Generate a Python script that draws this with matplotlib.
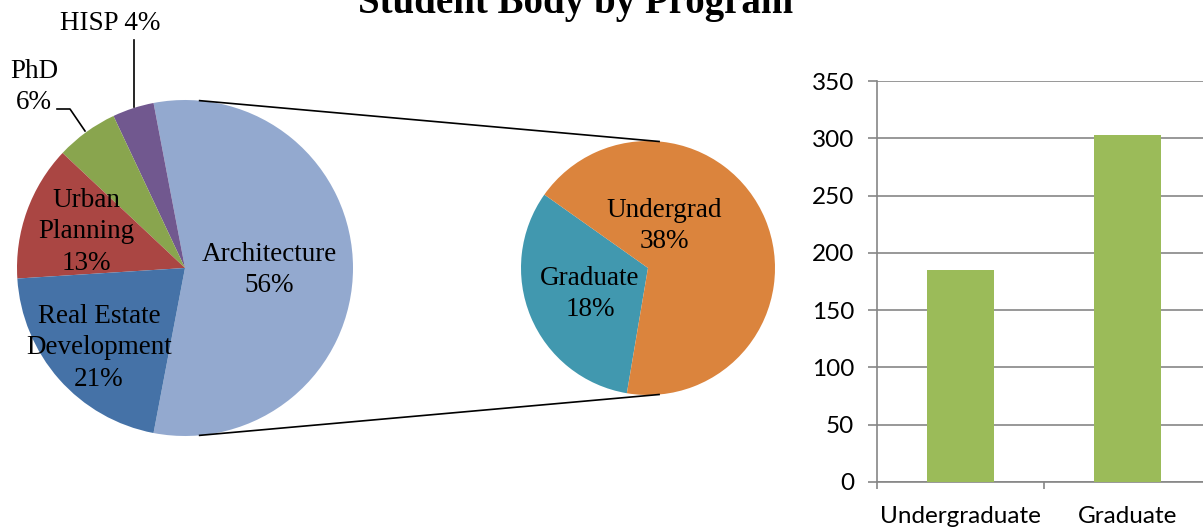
import numpy as np
import matplotlib.pyplot as plt

# data
programs = ["Architecture", "HISP", "PhD", "Urban\nPlanning", "Real Estate\nDevelopment"]
program_share = [56, 4, 6, 13, 21]
arch_levels = ["Graduate", "Undergrad"]
arch_share = [18, 38]
bar_labels = ["Undergraduate", "Graduate"]
bar_values = [185, 303]

pie_colors = ["#93A9CF", "#71588F", "#89A54E", "#AA4643", "#4572A7"]
arch_colors = ["#4198AF", "#DB843D"]
serif = ["Liberation Serif", "DejaVu Serif"]

W, H = 1203, 527
fig = plt.figure(figsize=(W / 100, H / 100), dpi=100)

# left part: both pies drawn in pixel-like data coords (y up)
ax = fig.add_axes([0, 0, 800 / W, 1])
c1, r1 = (185, H - 268), 168
c2, r2 = (648, H - 268), 127

# the split-off slice (Architecture) is centred on 3 o'clock
start1 = -program_share[0] / sum(program_share) * 360 / 2
ax.pie(program_share, colors=pie_colors, startangle=start1, center=c1,
       radius=r1, counterclock=True, wedgeprops=dict(linewidth=0))
ax.pie(arch_share, colors=arch_colors, startangle=144.7, center=c2,
       radius=r2, counterclock=True, wedgeprops=dict(linewidth=0))
ax.set_xlim(0, 800)
ax.set_ylim(0, H)
ax.set_aspect("equal")
ax.axis("off")

# connector lines between the pies
for sgn in (1, -1):
    a = np.deg2rad(85 * sgn)
    ax.plot([c1[0] + r1 * np.cos(a), c2[0] + r2 * np.cos(a)],
            [c1[1] + r1 * np.sin(a), c2[1] + r2 * np.sin(a)],
            color="black", lw=1.2)

# leader lines for the small slices
ax.plot([134, 134], [H - 40, H - 107], color="black", lw=1.2)
ax.plot([57, 70, 85], [H - 109, H - 109, H - 131], color="black", lw=1.2)

fs = 19.5
def lab(x, y, s):
    ax.text(x, H - y, s, ha="center", va="center", fontsize=fs,
            family=serif, linespacing=1.35)

lab(110, 24, f"{programs[1]} {program_share[1]}%")
lab(34, 87, f"{programs[2]}\n{program_share[2]}%")
lab(86, 232, f"{programs[3]}\n{program_share[3]}%")
lab(269, 270, f"{programs[0]}\n{program_share[0]}%")
lab(99, 348, f"{programs[4]}\n{program_share[4]}%")
lab(664, 226, f"{arch_levels[1]}\n{arch_share[1]}%")
lab(590, 294, f"{arch_levels[0]}\n{arch_share[0]}%")

ax.text(576, H - 13, "Student Body by Program", ha="center", va="baseline",
        fontsize=28, fontweight="bold", family=serif)

# right part: bar chart
bx = fig.add_axes([877 / W, 45 / H, 334 / W, 401 / H])
x = np.arange(len(bar_labels))
bx.bar(x, bar_values, width=0.4, color="#9BBB59", zorder=3)
bx.set_xlim(-0.5, len(bar_labels) - 0.5)
bx.set_ylim(0, 350)
bx.set_yticks(np.arange(0, 351, 50))
bx.set_xticks(x)
bx.set_xticklabels(bar_labels)
bx.set_xticks(np.arange(-0.5, len(bar_labels)), minor=True)
bx.grid(axis="y", color="#868686", lw=1.2, zorder=0)
for side in ("top", "right"):
    bx.spines[side].set_visible(False)
for side in ("left", "bottom"):
    bx.spines[side].set_color("#868686")
    bx.spines[side].set_linewidth(1.2)
bx.tick_params(axis="y", length=6.5, width=1.2, color="#868686", pad=10,
               labelsize=17.5)
bx.tick_params(axis="x", which="major", length=0, pad=17, labelsize=17.5)
bx.tick_params(axis="x", which="minor", length=5, width=1.2, color="#868686")
for t in bx.get_xticklabels() + bx.get_yticklabels():
    t.set_family(["Lato", "DejaVu Sans"])

fig.savefig("out.png", dpi=100)
